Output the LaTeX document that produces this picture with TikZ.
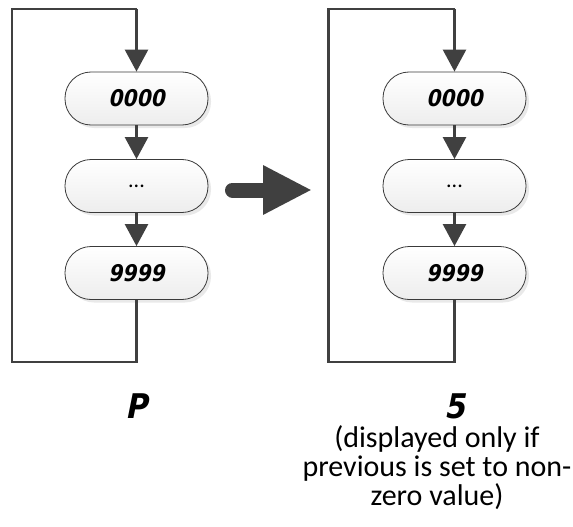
\documentclass[tikz,border=0pt]{standalone}
\usepackage{fontspec}
\setmainfont{Carlito}
\newfontfamily\segfont[FakeSlant=0.2,FakeStretch=0.88]{DejaVu Sans}
\usetikzlibrary{arrows.meta,shadows}
\definecolor{linec}{HTML}{404040}
\tikzset{
  stadium/.style={draw=linec!90!black, line width=0.8pt, rounded corners=26pt,
    minimum width=143pt, minimum height=53pt, inner sep=0pt,
    top color=white, bottom color=black!7,
    drop shadow={shadow xshift=3pt, shadow yshift=-3pt, fill=black!14, opacity=0.6},
    font=\segfont\bfseries\fontsize{23}{23}\selectfont},
  flow/.style={draw=linec, line width=2.6pt, -{Triangle[width=23pt,length=22pt]}},
  loopline/.style={draw=linec, line width=2.6pt},
  bigarrow/.style={draw=linec, line width=15pt, line cap=round, -{Triangle[width=46pt,length=49pt]}},
  seglabel/.style={font=\segfont\bfseries\fontsize{34}{34}\selectfont},
  caption/.style={font=\fontsize{30}{29}\selectfont, align=center, inner sep=0pt}
}
\begin{document}
\begin{tikzpicture}[x=1pt,y=-1pt]
\useasboundingbox (0,0) rectangle (573,527);
% left block
\node[stadium] (a1) at (136.5,98.5) {0000};
\node[stadium, font=\fontsize{22}{22}\selectfont] (a2) at (136.5,186) {...};
\node[stadium] (a3) at (136.5,273) {9999};
\coordinate (abot) at (136.5,362);
\coordinate (abl) at (12,362);
\coordinate (atl) at (12,9);
\coordinate (atop) at (136.5,9);
\draw[flow] (a1.south) -- (a2.north);
\draw[flow] (a2.south) -- (a3.north);
\draw[loopline] (a3.south) -- (abot) -- (abl) -- (atl) -- (atop);
\draw[flow] (atop) -- (a1.north);
\node[seglabel] (p) at (136.5,406) {P};
% right block
\node[stadium] (b1) at (454.5,98.5) {0000};
\node[stadium, font=\fontsize{22}{22}\selectfont] (b2) at (454.5,186) {...};
\node[stadium] (b3) at (454.5,273) {9999};
\coordinate (bbot) at (454.5,362);
\coordinate (bbl) at (328.5,362);
\coordinate (btl) at (328.5,9);
\coordinate (btop) at (454.5,9);
\draw[flow] (b1.south) -- (b2.north);
\draw[flow] (b2.south) -- (b3.north);
\draw[loopline] (b3.south) -- (bbot) -- (bbl) -- (btl) -- (btop);
\draw[flow] (btop) -- (b1.north);
\node[seglabel] (s) at (454.5,406) {5};
\node[caption] (cap) at (437,468) {(displayed only if\\previous is set to non-\\zero value)};
% big arrow
\coordinate (g1) at (232.5,190);
\coordinate (g2) at (312,190);
\draw[bigarrow] (g1) -- (g2);
\end{tikzpicture}
\end{document}
